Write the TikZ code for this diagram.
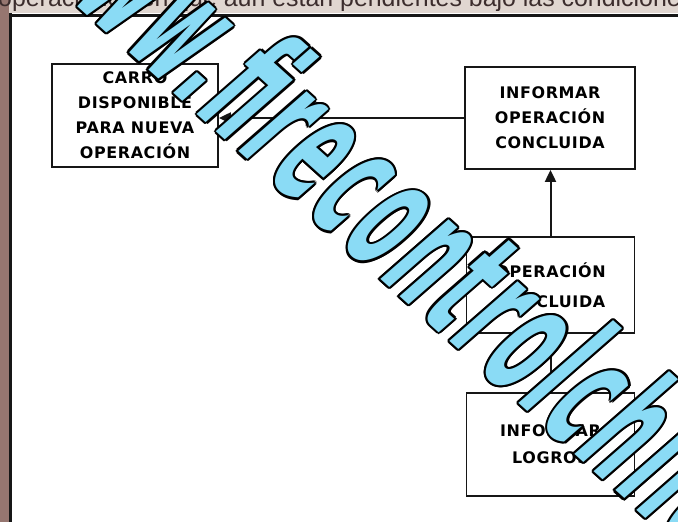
\documentclass[tikz,border=0pt]{standalone}
\usepackage{fontspec}
\setmainfont{DejaVu Sans}
\newfontfamily\boxfont[LetterSpace=4]{DejaVu Sans}
\newfontfamily\wmfont[LetterSpace=8]{DejaVu Sans}
\newfontfamily\scanfont{Liberation Sans}
\usetikzlibrary{arrows.meta,calc}
\definecolor{wmcyan}{RGB}{138,219,245}
\definecolor{scanbrown}{RGB}{150,118,112}
\definecolor{scanbeige}{RGB}{224,214,208}
\definecolor{scanink}{RGB}{60,45,45}
\definecolor{ink}{RGB}{22,22,22}
\tikzset{
  box/.style={draw=ink, line width=1.8bp, fill=white, align=center, inner sep=0pt,
    font=\boxfont\bfseries\fontsize{16}{25}\selectfont},
  arr/.style={draw=ink, line width=2bp, -{Triangle[length=12bp,width=11bp]}},
  scantext/.style={anchor=base west, inner sep=0pt, text=scanink,
    font=\scanfont\fontsize{25}{27}\selectfont},
  wm/.style={font=\wmfont\bfseries\fontsize{165}{165}\selectfont, inner sep=0pt,
    anchor=base west, rotate=-42, xslant=0.12, xscale=0.42}
}
\begin{document}
\begin{tikzpicture}[x=1bp,y=-1bp]
\useasboundingbox (0,0) rectangle (678,522);
\fill[white] (0,0) rectangle (678,522);
% scanned page margins
\fill[scanbeige] (0,0) rectangle (678,13);
\fill[scanbrown] (0,0) rectangle (9,522);
\begin{scope}
  \clip (0,0) rectangle (678,11);
  \node[scantext] (scanline) at (-2,7) {operaciones en que aún están pendientes bajo las condiciones};
\end{scope}
\draw[ink, line width=3bp] (10.5,13.5) -- (10.5,522);
\draw[ink, line width=2.5bp] (9,15.5) -- (678,15.5);

% boxes
\node[box, minimum width=166bp, minimum height=103bp] (carro) at (135,115.5)
  {CARRO\\DISPONIBLE\\PARA NUEVA\\OPERACIÓN};
\node[box, minimum width=170bp, minimum height=102bp] (infop) at (550,118)
  {INFORMAR\\OPERACIÓN\\CONCLUIDA};
\node[box, minimum width=168bp, minimum height=96bp, font=\boxfont\bfseries\fontsize{16}{30}\selectfont] (opconc) at (550.5,285)
  {OPERACIÓN\\CONCLUIDA};
\node[box, minimum width=168bp, minimum height=103bp, font=\boxfont\bfseries\fontsize{16}{27}\selectfont] (logros) at (550.5,444.5)
  {INFORMAR\\LOGROS};

% connectors
\draw[arr] (infop.west) -- (infop.west -| carro.east);
\draw[arr] (opconc.north) -- (opconc.north |- infop.south);
\draw[arr] (logros.north) -- (logros.north |- opconc.south);

% watermark: black copies form the outline, cyan text on top
\begin{scope}
  \clip (0,0) rectangle (678,522);
  \coordinate (wmstart) at (17,-48);
  \foreach \a in {0,30,...,330}{
    \node[wm, text=black, name=wmo\a] at ($(wmstart)+(\a:2.2)$) {www.firecontrolchile};
  }
  \node[wm, text=wmcyan] (wmark) at (wmstart) {www.firecontrolchile};
\end{scope}
\end{tikzpicture}
\end{document}
